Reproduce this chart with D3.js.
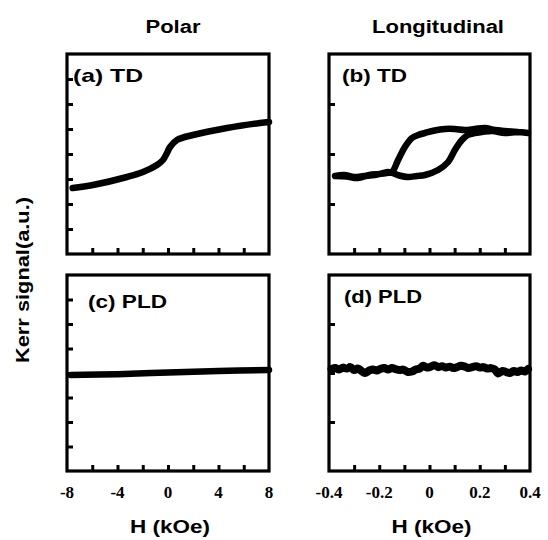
<!DOCTYPE html>
<html><head><meta charset="utf-8">
<script src="https://cdn.jsdelivr.net/npm/d3@7"></script>
<style>body{margin:0;background:#fff}</style>
</head><body>
<script>
// ---- data ----
const hPolarTicks = [-8, -4, 0, 4, 8];
const hLongTicks = [-0.4, -0.2, 0, 0.2, 0.4];
const hLongLabels = ["-0.4", "-0.2", "0", "0.2", "0.4"];

// (a) TD polar
const aH = [-7.55, -5.94, -3.25, -1.98, -0.87, -0.40, -0.08, 0.16, 0.71, 1.98, 4.67, 7.29, 8.0];
const aV = [2.64, 2.76, 3.08, 3.28, 3.56, 3.76, 4.04, 4.28, 4.56, 4.76, 5.04, 5.24, 5.28];

// (b) TD longitudinal loop (field up, then field down)
const bH = [-0.376, -0.34, -0.30, -0.26, -0.217, -0.19, -0.165, -0.149, -0.12, -0.086, -0.05, -0.018, 0.034, 0.074, 0.101, 0.129, 0.153, 0.18, 0.209, 0.25, 0.30, 0.35, 0.392,
            0.35, 0.30, 0.26, 0.221, 0.18, 0.141, 0.10, 0.062, 0.02, -0.018, -0.045, -0.070, -0.098, -0.125, -0.149, -0.17, -0.20, -0.24, -0.285, -0.33, -0.376];
const bV = [1.56, 1.58, 1.54, 1.56, 1.58, 1.61, 1.64, 1.62, 1.57, 1.54, 1.56, 1.58, 1.68, 1.84, 2.08, 2.28, 2.38, 2.42, 2.44, 2.46, 2.42, 2.44, 2.42,
            2.44, 2.46, 2.48, 2.52, 2.50, 2.48, 2.50, 2.50, 2.47, 2.42, 2.38, 2.32, 2.14, 1.88, 1.64, 1.62, 1.60, 1.58, 1.52, 1.55, 1.56];

// (c) PLD polar
const cH = [-7.7, -4, 0, 4, 8];
const cV = [3.92, 3.95, 4.02, 4.08, 4.12];

// (d) PLD longitudinal
const dH = [-0.39, -0.375, -0.36, -0.345, -0.33, -0.315, -0.30, -0.285, -0.27, -0.257, -0.24, -0.225, -0.21, -0.197, -0.18, -0.165, -0.149, -0.135, -0.12, -0.105, -0.086, -0.07, -0.055, -0.04, -0.025, -0.01, 0.005, 0.02, 0.035, 0.05, 0.065, 0.08, 0.095, 0.11, 0.125, 0.141, 0.155, 0.17, 0.185, 0.201, 0.215, 0.23, 0.245, 0.26, 0.273, 0.29, 0.305, 0.32, 0.335, 0.35, 0.365, 0.38, 0.392];
const dV = [2.08, 2.10, 2.07, 2.11, 2.09, 2.12, 2.06, 2.09, 2.04, 2.00, 2.05, 2.07, 2.05, 2.08, 2.10, 2.07, 2.10, 2.08, 2.06, 2.07, 2.02, 2.03, 2.07, 2.09, 2.15, 2.11, 2.13, 2.16, 2.12, 2.14, 2.11, 2.13, 2.10, 2.12, 2.15, 2.13, 2.10, 2.12, 2.14, 2.11, 2.12, 2.09, 2.10, 2.07, 1.99, 2.04, 2.02, 2.00, 2.04, 2.02, 2.05, 2.03, 2.08];

const panels = [
  {label: "(a) TD",  lw: 70, x0: 67,  x1: 269, y0: 54,  y1: 254, hdom: [-8, 8], vdom: [0, 8], vticks: [1,2,3,4,5,6,7], H: aH, V: aV, lx: 73,  ly: 82,  showX: false, xt: hPolarTicks, sw: 6.5},
  {label: "(b) TD",  lw: 65, x0: 329, x1: 530, y0: 54,  y1: 254, hdom: [-0.4, 0.4], vdom: [0, 4], vticks: [1,2,3], H: bH, V: bV, lx: 342, ly: 82, showX: false, xt: hLongTicks, sw: 6.5},
  {label: "(c) PLD", lw: 79, x0: 67,  x1: 269, y0: 275, y1: 471, hdom: [-8, 8], vdom: [0, 8], vticks: [1,2,3,4,5,6,7], H: cH, V: cV, lx: 88,  ly: 308, showX: true, xt: hPolarTicks, xl: hPolarTicks.map(String), sw: 6.5},
  {label: "(d) PLD", lw: 78, x0: 329, x1: 530, y0: 275, y1: 471, hdom: [-0.4, 0.4], vdom: [0, 4], vticks: [1,2,3], H: dH, V: dV, lx: 344, ly: 303, showX: true, xt: hLongTicks, xl: hLongLabels, sw: 8}
];

const svg = d3.select("body").append("svg").attr("width", 548).attr("height", 540);
const sans = "'Liberation Sans', Arial, sans-serif";
const serif = "'Liberation Serif', 'Times New Roman', serif";

panels.forEach(p => {
  const x = d3.scaleLinear().domain(p.hdom).range([p.x0, p.x1]);
  const y = d3.scaleLinear().domain(p.vdom).range([p.y1, p.y0]);
  const g = svg.append("g");
  const step = (p.hdom[1] - p.hdom[0]) / 8;
  const xticks = d3.range(1, 8).map(i => p.hdom[0] + i * step);
  const pts = p.H.map((h, i) => [h, p.V[i]]);
  g.append("path").datum(pts)
    .attr("d", d3.line().x(d => x(d[0])).y(d => y(d[1])).curve(d3.curveCatmullRom))
    .attr("fill", "none").attr("stroke", "#000").attr("stroke-width", p.sw)
    .attr("stroke-linecap", "round").attr("stroke-linejoin", "round");
  const xa = d3.axisBottom(x).tickValues(xticks).tickSize(-6).tickFormat("");
  const gx = g.append("g").attr("transform", `translate(0,${p.y1})`).call(xa);
  gx.select(".domain").remove();
  gx.selectAll("line").attr("stroke", "#000").attr("stroke-width", 3);
  const ya = d3.axisLeft(y).tickValues(p.vticks).tickSize(-6).tickFormat("");
  const gy = g.append("g").attr("transform", `translate(${p.x0},0)`).call(ya);
  gy.select(".domain").remove();
  gy.selectAll("line").attr("stroke", "#000").attr("stroke-width", 3);
  g.append("rect").attr("x", p.x0).attr("y", p.y0)
    .attr("width", p.x1 - p.x0).attr("height", p.y1 - p.y0)
    .attr("fill", "none").attr("stroke", "#000").attr("stroke-width", 3.2);
  if (p.showX) {
    g.selectAll(".tl").data(p.xt).enter().append("text")
      .attr("x", d => x(d)).attr("y", 498).attr("text-anchor", "middle")
      .attr("font-family", serif).attr("font-weight", "bold").attr("font-size", 17)
      .text((d, i) => p.xl[i]);
    g.append("text").attr("x", (p.x0 + p.x1) / 2 - 40 + 2).attr("y", 533)
      .attr("font-family", sans).attr("font-weight", "bold").attr("font-size", 19)
      .attr("textLength", 80).attr("lengthAdjust", "spacingAndGlyphs").text("H (kOe)");
  }
  g.append("text").attr("x", p.lx).attr("y", p.ly)
    .attr("font-family", sans).attr("font-weight", "bold").attr("font-size", 18.5)
    .attr("textLength", p.lw).attr("lengthAdjust", "spacingAndGlyphs").text(p.label);
});

svg.append("text").attr("x", 173 - 27.5).attr("y", 33)
  .attr("font-family", sans).attr("font-weight", "bold").attr("font-size", 18)
  .attr("textLength", 55).attr("lengthAdjust", "spacingAndGlyphs").text("Polar");
svg.append("text").attr("x", 438 - 66).attr("y", 33)
  .attr("font-family", sans).attr("font-weight", "bold").attr("font-size", 18)
  .attr("textLength", 132).attr("lengthAdjust", "spacingAndGlyphs").text("Longitudinal");
svg.append("text").attr("transform", "translate(29,363) rotate(-90)")
  .attr("font-family", sans).attr("font-weight", "bold").attr("font-size", 19)
  .attr("textLength", 166).attr("lengthAdjust", "spacingAndGlyphs").text("Kerr signal(a.u.)");
</script>
</body></html>
